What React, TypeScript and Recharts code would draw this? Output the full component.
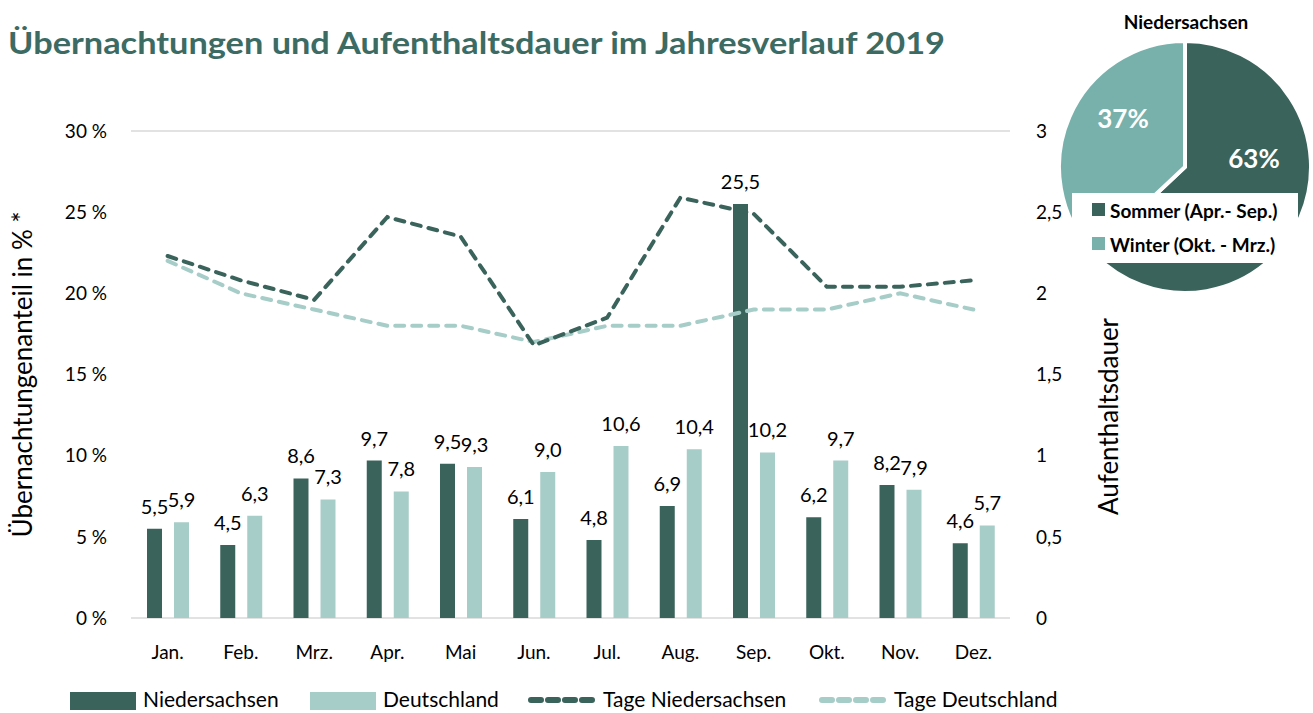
import React from 'react';
import {
  ComposedChart, Bar, Line, XAxis, YAxis, CartesianGrid, LabelList,
  PieChart, Pie, Cell,
} from 'recharts';

const months = ['Jan.', 'Feb.', 'Mrz.', 'Apr.', 'Mai', 'Jun.', 'Jul.', 'Aug.', 'Sep.', 'Okt.', 'Nov.', 'Dez.'];
const anteilNiedersachsen = [5.5, 4.5, 8.6, 9.7, 9.5, 6.1, 4.8, 6.9, 25.5, 6.2, 8.2, 4.6];
const anteilDeutschland = [5.9, 6.3, 7.3, 7.8, 9.3, 9.0, 10.6, 10.4, 10.2, 9.7, 7.9, 5.7];
const tageNiedersachsen = [2.23, 2.08, 1.96, 2.47, 2.35, 1.68, 1.85, 2.59, 2.49, 2.04, 2.04, 2.08];
const tageDeutschland = [2.2, 2.0, 1.9, 1.8, 1.8, 1.7, 1.8, 1.8, 1.9, 1.9, 2.0, 1.9];

const leftTicks = [0, 5, 10, 15, 20, 25, 30];
const rightTicks = [0, 0.5, 1, 1.5, 2, 2.5, 3];

const pieNames = ['Sommer (Apr.- Sep.)', 'Winter (Okt. - Mrz.)'];
const pieValues = [63, 37];

const DARK = '#3A635B';
const LIGHT = '#A7CDC9';
const PIE_LIGHT = '#78B1AB';
const TITLE = '#3C6B63';
const FONT = 'Lato, "Open Sans", sans-serif';

const data = months.map((m, i) => ({
  month: m,
  nds: anteilNiedersachsen[i],
  de: anteilDeutschland[i],
  tageNds: tageNiedersachsen[i],
  tageDe: tageDeutschland[i],
}));

const pieData = pieNames.map((n, i) => ({ name: n, value: pieValues[i] }));

const comma = (v: number) => String(v).replace('.', ',');
const fmt1 = (v: any) => Number(v).toFixed(1).replace('.', ',');

const pieLabelShift = [
  { dx: 69, dy: -9 },
  { dx: -62, dy: -49 },
];

const renderPieLabel = (p: any) => {
  const s = pieLabelShift[p.index] || { dx: 0, dy: 0 };
  return (
    <text
      x={p.cx + s.dx}
      y={p.cy + s.dy}
      fill="#fff"
      textAnchor="middle"
      dominantBaseline="central"
      fontFamily={FONT}
      fontWeight={700}
      fontSize={26}
    >
      {p.value}%
    </text>
  );
};

const legendItems = [
  { label: 'Niedersachsen', type: 'rect', color: DARK, x: 70 },
  { label: 'Deutschland', type: 'rect', color: LIGHT, x: 310 },
  { label: 'Tage Niedersachsen', type: 'line', color: DARK, x: 527 },
  { label: 'Tage Deutschland', type: 'line', color: LIGHT, x: 818 },
];

export default function App() {
  return (
    <div style={{ position: 'absolute', left: 0, top: 0, width: 1313, height: 713, background: '#fff', overflow: 'hidden', fontFamily: FONT }}>
      <div style={{ position: 'absolute', left: 0, top: 0 }}>
        <ComposedChart
          width={1135}
          height={713}
          data={data}
          margin={{ top: 131, right: 0, bottom: 55, left: 0 }}
          barGap={12}
        >
          <CartesianGrid vertical={false} stroke="#D9D9D9" strokeWidth={1.5} />
          <XAxis
            dataKey="month"
            height={40}
            axisLine={false}
            tickLine={false}
            tickMargin={22}
            tick={{ fill: '#000', fontSize: 19, fontFamily: FONT }}
            interval={0}
          />
          <YAxis
            yAxisId="left"
            orientation="left"
            width={131}
            domain={[0, 30]}
            ticks={leftTicks}
            axisLine={false}
            tickLine={false}
            tickMargin={18}
            tickFormatter={(v: number) => `${v} %`}
            tick={{ fill: '#000', fontSize: 19, fontFamily: FONT }}
            label={{
              content: (p: any) => {
                const vb = p.viewBox || {};
                const x = 22;
                const y = (vb.y || 131) + (vb.height || 487) / 2;
                return (
                  <text x={x} y={y} transform={`rotate(-90 ${x} ${y})`} textAnchor="middle" dominantBaseline="central" fontFamily={FONT} fontSize={26} fill="#000">
                    Übernachtungenanteil in % *
                  </text>
                );
              },
            }}
          />
          <YAxis
            yAxisId="right"
            orientation="right"
            width={125}
            domain={[0, 3]}
            ticks={rightTicks}
            axisLine={false}
            tickLine={false}
            tickMargin={20}
            tickFormatter={comma}
            tick={{ fill: '#000', fontSize: 19, fontFamily: FONT }}
            label={{
              content: (p: any) => {
                const vb = p.viewBox || {};
                const x = (vb.x || 1010) + 98;
                const y = (vb.y || 131) + (vb.height || 487) / 2 + 42;
                return (
                  <text x={x} y={y} transform={`rotate(-90 ${x} ${y})`} textAnchor="middle" dominantBaseline="central" fontFamily={FONT} fontSize={26} fill="#000">
                    Aufenthaltsdauer
                  </text>
                );
              },
            }}
          />
          <Bar yAxisId="left" dataKey="nds" fill={DARK} barSize={15} isAnimationActive={false}>
            <LabelList dataKey="nds" position="top" offset={15} formatter={fmt1} fill="#000" fontSize={20} fontFamily={FONT} />
          </Bar>
          <Bar yAxisId="left" dataKey="de" fill={LIGHT} barSize={15} isAnimationActive={false}>
            <LabelList dataKey="de" position="top" offset={15} formatter={fmt1} fill="#000" fontSize={20} fontFamily={FONT} />
          </Bar>
          <Line yAxisId="right" type="linear" dataKey="tageDe" stroke={LIGHT} strokeWidth={4} strokeDasharray="9 8" strokeLinecap="round" dot={false} isAnimationActive={false} />
          <Line yAxisId="right" type="linear" dataKey="tageNds" stroke={DARK} strokeWidth={4} strokeDasharray="9 8" strokeLinecap="round" dot={false} isAnimationActive={false} />
        </ComposedChart>
      </div>

      <div style={{ position: 'absolute', left: 1050, top: 0 }}>
        <PieChart width={263} height={300} margin={{ top: 0, right: 0, bottom: 0, left: 0 }}>
          <Pie
            data={pieData}
            dataKey="value"
            nameKey="name"
            cx={135}
            cy={167}
            outerRadius={126}
            startAngle={90}
            endAngle={-270}
            stroke="#fff"
            strokeWidth={4}
            label={renderPieLabel}
            labelLine={false}
            isAnimationActive={false}
          >
            <Cell fill={DARK} />
            <Cell fill={PIE_LIGHT} />
          </Pie>
        </PieChart>
      </div>

      <svg width={1313} height={713} style={{ position: 'absolute', left: 0, top: 0, pointerEvents: 'none' }}>
        <text x={8} y={54} fontFamily={FONT} fontWeight={700} fontSize={30} fill={TITLE} textLength={937} lengthAdjust="spacingAndGlyphs">
          Übernachtungen und Aufenthaltsdauer im Jahresverlauf 2019
        </text>
        <text x={1186} y={21} fontFamily={FONT} fontWeight={700} fontSize={19} fill="#000" textAnchor="middle" dominantBaseline="central">
          Niedersachsen
        </text>
        <rect x={1072} y={193} width={226} height={70} fill="#fff" />
        {pieNames.map((n, i) => (
          <g key={n}>
            <rect x={1092} y={203 + i * 34} width={13} height={13} fill={i === 0 ? DARK : PIE_LIGHT} />
            <text x={1110} y={210 + i * 34} dominantBaseline="central" fontFamily={FONT} fontWeight={700} fontSize={19} fill="#000">
              {n}
            </text>
          </g>
        ))}
        {legendItems.map((it) => (
          <g key={it.label}>
            {it.type === 'rect' ? (
              <rect x={it.x} y={692} width={66} height={18} fill={it.color} />
            ) : (
              <line x1={it.x + 4} y1={700} x2={it.x + 68} y2={700} stroke={it.color} strokeWidth={6} strokeDasharray="10 7" strokeLinecap="round" />
            )}
            <text x={it.x + (it.type === 'rect' ? 73 : 76)} y={698} dominantBaseline="central" fontFamily={FONT} fontSize={21} fill="#000">
              {it.label}
            </text>
          </g>
        ))}
      </svg>
    </div>
  );
}
